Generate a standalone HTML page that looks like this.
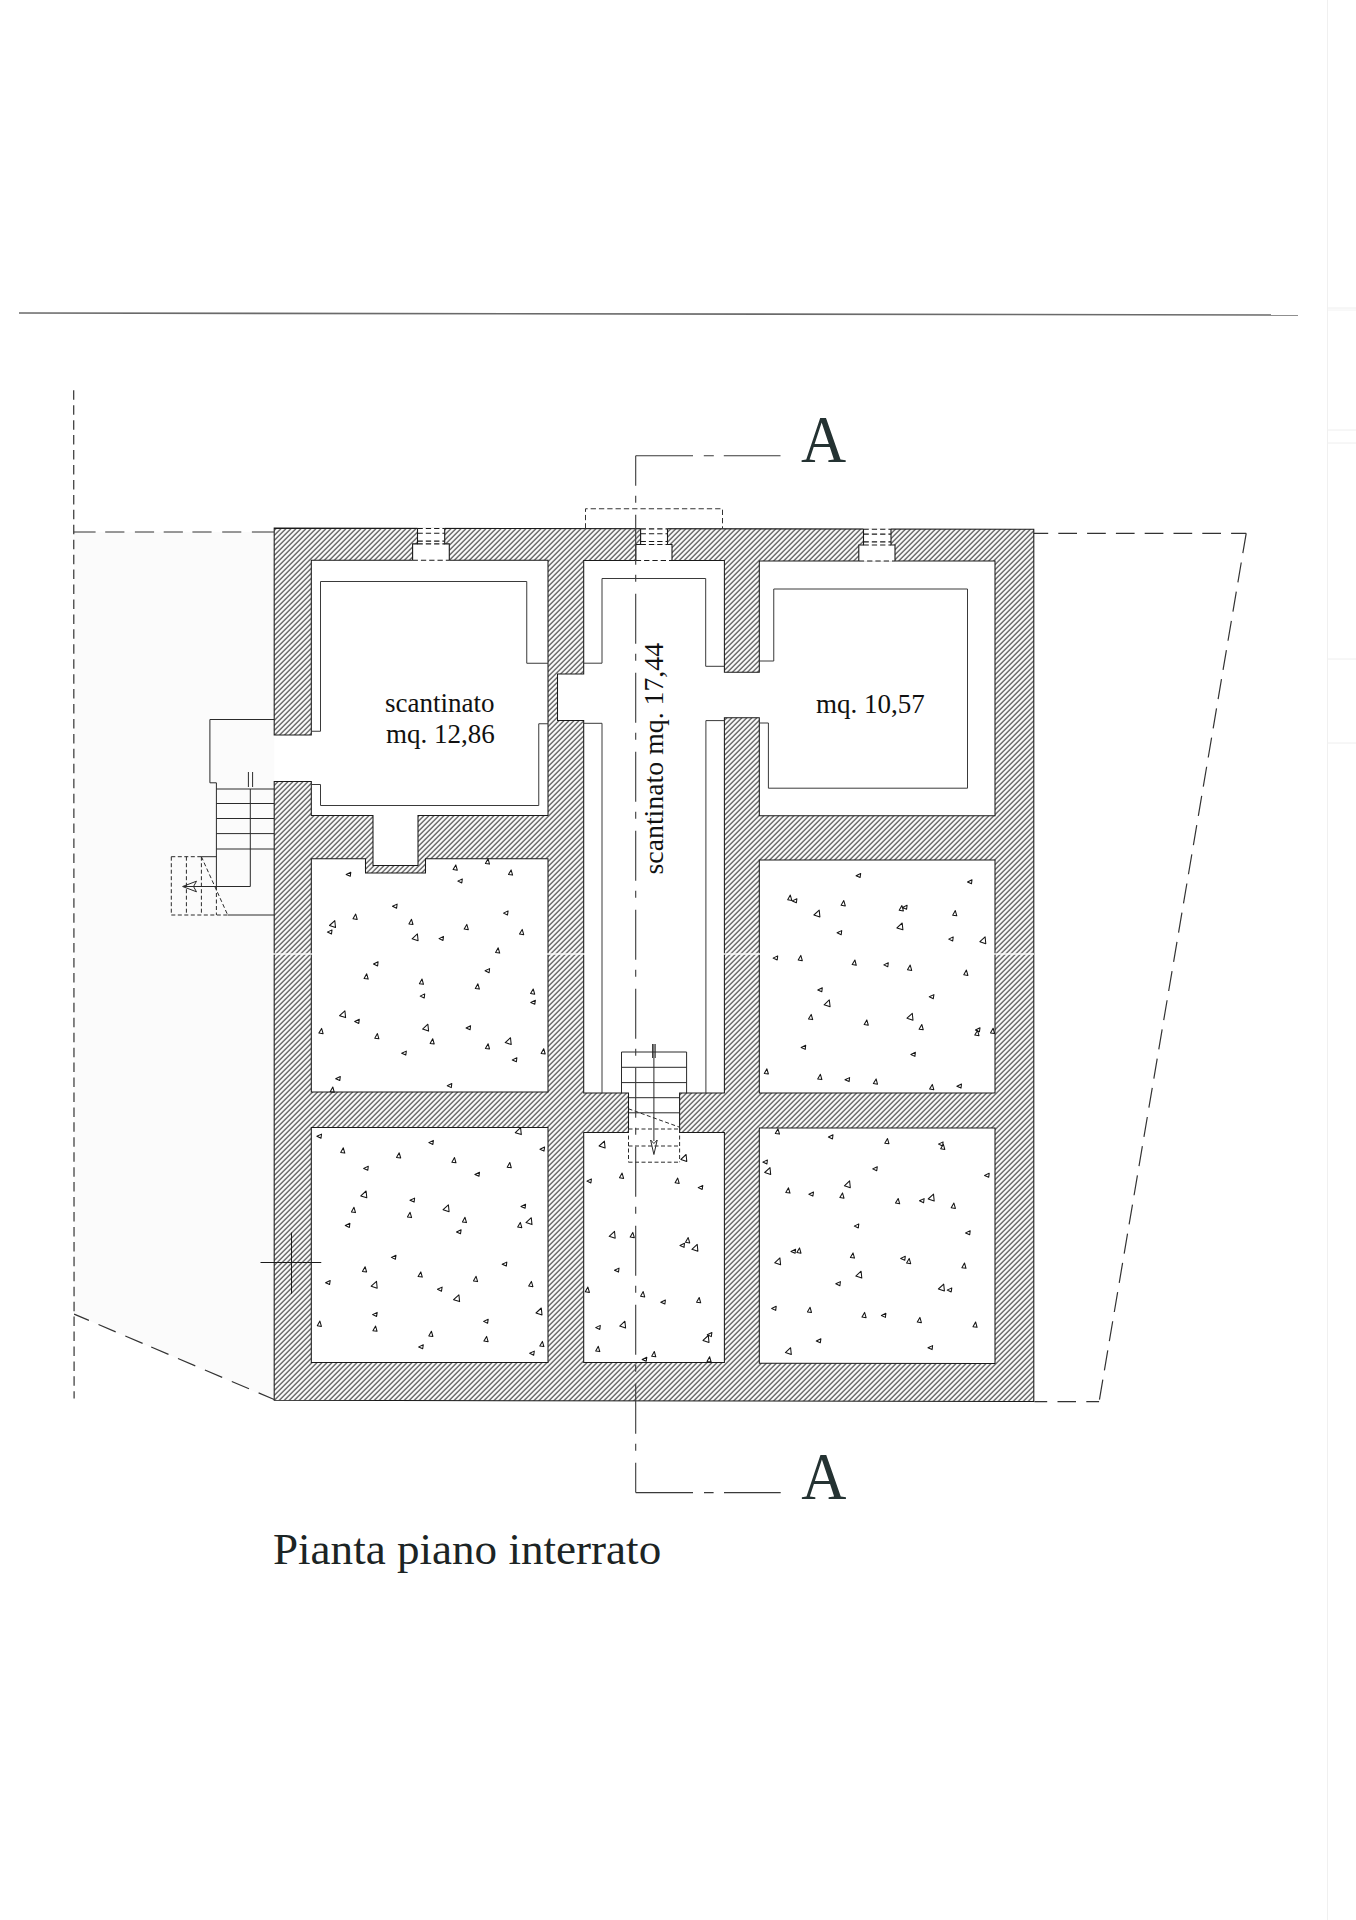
<!DOCTYPE html>
<html><head><meta charset="utf-8"><title>Pianta piano interrato</title>
<style>html,body{margin:0;padding:0;background:#fff;width:1356px;height:1920px;overflow:hidden}svg{display:block}</style>
</head><body>
<svg width="1356" height="1920" viewBox="0 0 1356 1920">
<defs>
<pattern id="h" patternUnits="userSpaceOnUse" x="4.6" y="0" width="5" height="5">
<path d="M-1,1 L1,-1 M0,5 L5,0 M4,6 L6,4" stroke="#2a2a2a" stroke-width="1.05" fill="none"/>
</pattern>
</defs>
<rect width="1356" height="1920" fill="#fff"/>
<path d="M73.8,532 L274.2,532 L274.2,1400 L74,1314 Z" fill="#fbfbfb"/>
<path d="M19,313 L1298,315" stroke="#6a6a6a" stroke-width="1.6" fill="none"/>
<path d="M1327.5,0 L1327.5,1920" stroke="#f0f0f0" stroke-width="1" fill="none"/>
<path d="M1328,310 L1356,310" stroke="#f2f2f2" stroke-width="1" fill="none"/>
<path d="M274.2,528.1 L1033.8,529.3 L1033.8,1401.5 L274.2,1400.3 L274.2,781.5 L311.3,781.5 L311.3,815.5 L373,815.5 L373,865.5 L418,865.5 L418,815.5 L548,815.5 L548,560.3 L311.3,560.3 L311.3,735 L274.2,735ZM583.7,560.5 L724.4,560.5 L724.4,672.3 L759.3,672.3 L759.3,561 L995,561 L995,815.8 L759.3,815.8 L759.3,717.8 L724.4,717.8 L724.4,1093 L679.6,1093 L679.6,1132.4 L724.4,1132.4 L724.4,1362.5 L583.7,1362.5 L583.7,1132.4 L628.5,1132.4 L628.5,1093 L583.7,1093 L583.7,720.5 L557.5,720.5 L557.5,674 L583.7,674ZM311.3,858.8 L365.5,858.8 L365.5,873 L425.5,873 L425.5,858.8 L548,858.8 L548,1092 L311.3,1092ZM311.3,1127.5 L548,1127.5 L548,1362.5 L311.3,1362.5ZM759.3,860 L995,860 L995,1093 L759.3,1093ZM759.3,1128 L995,1128 L995,1363.5 L759.3,1363.2Z" fill="url(#h)" fill-rule="evenodd" stroke="#1a1a1a" stroke-width="1.05"/>
<path d="M272,954 L1034,954" stroke="#fff" stroke-width="1.6" opacity="0.9"/>
<g fill="#fff"><rect x="417.5" y="527.3" width="27.19999999999999" height="16.600000000000023"/><rect x="412.6" y="543.9" width="36.69999999999999" height="17.199999999999978"/><rect x="640.6" y="527.7" width="26.899999999999977" height="16.799999999999955"/><rect x="635.8" y="544.5" width="36.200000000000045" height="16.8"/><rect x="863.5" y="528.1" width="27.5" height="16.899999999999977"/><rect x="858.8" y="545" width="36.200000000000045" height="16.8"/></g>
<path d="M417.5,528.3 L417.5,543.9 L412.6,543.9 L412.6,560.3M444.7,528.3 L444.7,543.9 L449.3,543.9 L449.3,560.3M640.6,528.7 L640.6,544.5 L635.8,544.5 L635.8,560.5M667.5,528.7 L667.5,544.5 L672,544.5 L672,560.5M863.5,529.1 L863.5,545 L858.8,545 L858.8,561M891,529.1 L891,545 L895,545 L895,561" stroke="#1a1a1a" stroke-width="1.1" fill="none"/>
<path d="M417.5,528.5 L444.7,528.5M417.5,533.3 L444.7,533.3M417.5,541.0999999999999 L444.7,541.0999999999999M417.5,543.9 L444.7,543.9M412.6,560.3 L449.3,560.3M640.6,528.9000000000001 L667.5,528.9000000000001M640.6,533.7 L667.5,533.7M640.6,541.5 L667.5,541.5M640.6,544.5 L667.5,544.5M635.8,560.5 L672,560.5M863.5,529.3000000000001 L891,529.3000000000001M863.5,534.1 L891,534.1M863.5,541.9 L891,541.9M863.5,545 L891,545M858.8,561 L895,561" stroke="#1a1a1a" stroke-width="1.1" fill="none" stroke-dasharray="5.3 3"/>
<path d="M585.5,528.5 L585.5,508.75 L722.5,508.75 L722.5,528.5" stroke="#333" stroke-width="1" fill="none" stroke-dasharray="5.3 3"/>
<path d="M548,663.25 L526.75,663.25 L526.75,581.5 L320.5,581.5 L320.5,731.25 L311.3,731.25M311.3,784.5 L320.5,784.5 L320.5,805.5 L538.75,805.5 L538.75,723.75 L548,723.75M583.7,663.2 L602,663.2 L602,578.5 L705.7,578.5 L705.7,666.3 L724.4,666.3M583.7,723.3 L602,723.3 L602,1093M724.4,720.6 L705.9,720.6 L705.9,1093M759.3,661 L773.75,661 L773.75,589 L967.5,589 L967.5,788.2 L768.4,788.2 L768.4,723 L759.3,723" stroke="#3a3a3a" stroke-width="1" fill="none"/>
<path d="M274.2,719.5 L209.9,719.5 L209.9,782.8 L216.4,782.8 L216.4,886.5M216.4,789 L274.2,789M216.4,803.5 L274.2,803.5M216.4,818.5 L274.2,818.5M216.4,833.6 L274.2,833.6M216.4,849 L274.2,849M250.3,789 L250.3,886.5 L183.5,886.5M248.4,772 L248.4,787 M252.6,772 L252.6,787M201.4,856.7 L216.4,856.7 M227.7,915 L274.2,915" stroke="#2a2a2a" stroke-width="1" fill="none"/>
<path d="M182.6,886.5 L196.5,881.2 L193.5,886.5 L196.5,891.8 Z" stroke="#2a2a2a" stroke-width="1" fill="none"/>
<path d="M171.3,856.7 L201.4,856.7 M171.3,856.7 L171.3,915 M171.3,915 L227.7,915 M186.4,856.7 L186.4,915 M201.4,856.7 L201.4,915 M216.4,886.5 L216.4,915 M201.4,856.7 L227.7,915" stroke="#2a2a2a" stroke-width="1" fill="none" stroke-dasharray="4 2.5"/>
<path d="M621.5,1093 L621.5,1052 L686.6,1052 L686.6,1093M621.5,1067.3 L686.6,1067.3M621.5,1082.6 L686.6,1082.6M628.5,1097.7 L679.6,1097.7M628.5,1112.8 L679.6,1112.8M653.9,1044 L653.9,1141M652.6,1044 L652.6,1058 M655.2,1044 L655.2,1058" stroke="#2a2a2a" stroke-width="1" fill="none"/>
<path d="M653.9,1154.5 L650.6,1140 L653.9,1143.5 L657.2,1140 Z" stroke="#2a2a2a" stroke-width="1" fill="none"/>
<path d="M628.5,1108.8 L679.6,1127.2 M628.5,1129 L679.6,1129 M628.5,1129 L628.5,1162.2 M679.6,1129 L679.6,1162.2 M628.5,1162.2 L679.6,1162.2 M628.5,1146 L679.6,1146" stroke="#2a2a2a" stroke-width="1" fill="none" stroke-dasharray="4 2.5"/>
<path d="M73.6,532.0 L95.6,532.0M105.2,532.0 L124.4,532.0M134.9,532.0 L154.1,532.0M163.7,532.0 L182.9,532.0M192.4,532.0 L211.6,532.0M222.2,532.0 L241.3,532.0M251.9,532.0 L274.2,532.0M74.1,1314.10 L88.9,1320.42M98.5,1324.52 L115.7,1331.86M125.3,1335.96 L142.6,1343.34M151.2,1347.02 L168.5,1354.40M178,1358.46 L195.3,1365.84M204.9,1369.94 L222.2,1377.33M231.8,1381.43 L249,1388.77M258.6,1392.87 L274.2,1399.53M1034.4,1401.6 L1047.2,1401.6M1057.5,1401.6 L1076,1401.6M1086.3,1401.6 L1099.1,1401.6" stroke="#333" stroke-width="1.2" fill="none"/>
<path d="M1033.8,533.3 L1246.2,533.3" stroke="#333" stroke-width="1.2" fill="none" stroke-dasharray="18.7 10.1" stroke-dashoffset="4.3"/>
<path d="M1246.2,533.3 L1099.1,1401.6" stroke="#333" stroke-width="1.2" fill="none" stroke-dasharray="20.2 9.4"/>
<path d="M73.7,390.3 L74.1,1398.4" stroke="#333" stroke-width="1.2" fill="none" stroke-dasharray="9.5 5.44"/>
<path d="M1328,308 L1356,308 M1328,430 L1356,430 M1328,443 L1356,443 M1328,659 L1356,659 M1328,743 L1356,743" stroke="#eeeeee" stroke-width="1" fill="none"/>
<path d="M635.7,455.75 L635.7,1492.6" stroke="#3a3a3a" stroke-width="1.1" fill="none" stroke-dasharray="50 10 7 12" stroke-dashoffset="20"/>
<path d="M635.7,455.75 L693,455.75 M703.8,455.75 L713.8,455.75 M723.8,455.75 L780.5,455.75 M635.7,1492.6 L693,1492.6 M704,1492.6 L713.6,1492.6 M724,1492.6 L780.7,1492.6" stroke="#3a3a3a" stroke-width="1.1" fill="none"/>
<path d="M291.5,1232.5 L291.5,1293.75 M260.5,1262.5 L321.25,1262.5" stroke="#1a1a1a" stroke-width="1" fill="none"/>
<path d="M350.8,872.2 L346.2,874.4 L350.3,876.3ZM455.8,864.9 L453.1,869.5 L457.3,870.2ZM488.1,858.8 L485.4,863.5 L489.5,864.1ZM511.1,869.9 L508.5,874.5 L512.6,875.1ZM462.3,878.9 L457.8,881.1 L461.8,882.9ZM397.1,904.1 L392.5,906.3 L396.6,908.2ZM355.7,914.1 L353.0,918.8 L357.2,919.4ZM334.8,920.6 L329.5,925.5 L335.5,927.5ZM332.0,929.9 L327.4,932.1 L331.5,934.0ZM411.5,919.3 L408.9,923.9 L413.0,924.5ZM417.4,933.9 L412.1,938.8 L418.1,940.7ZM443.5,936.4 L439.0,938.6 L443.0,940.4ZM466.8,924.4 L464.2,929.1 L468.3,929.7ZM508.1,910.9 L503.5,913.1 L507.5,915.0ZM522.2,929.4 L519.5,934.1 L523.7,934.7ZM498.2,947.8 L495.6,952.5 L499.7,953.1ZM378.1,961.8 L373.5,964.0 L377.6,965.9ZM366.7,973.8 L364.1,978.5 L368.2,979.1ZM422.0,979.0 L419.4,983.7 L423.5,984.3ZM424.7,993.9 L420.2,996.1 L424.2,998.0ZM477.9,983.8 L475.3,988.5 L479.4,989.1ZM489.6,968.6 L485.1,970.8 L489.1,972.7ZM533.2,989.0 L530.6,993.6 L534.7,994.2ZM535.4,1000.2 L530.8,1002.4 L534.8,1004.2ZM344.9,1010.8 L339.6,1015.7 L345.6,1017.6ZM359.3,1019.3 L354.7,1021.5 L358.8,1023.4ZM321.6,1028.4 L318.9,1033.1 L323.1,1033.7ZM377.4,1033.6 L374.8,1038.2 L378.9,1038.8ZM427.9,1024.2 L422.6,1029.1 L428.6,1031.1ZM432.7,1038.7 L430.1,1043.4 L434.2,1044.0ZM470.6,1025.8 L466.1,1028.0 L470.1,1029.8ZM488.1,1043.7 L485.4,1048.4 L489.5,1049.0ZM510.5,1037.7 L505.2,1042.6 L511.2,1044.5ZM543.7,1048.7 L541.1,1053.4 L545.2,1054.0ZM406.3,1051.1 L401.7,1053.3 L405.8,1055.1ZM516.9,1057.7 L512.3,1059.9 L516.4,1061.7ZM340.3,1076.5 L335.7,1078.7 L339.8,1080.5ZM451.8,1083.5 L447.3,1085.7 L451.3,1087.6ZM332.8,1087.0 L330.2,1091.7 L334.3,1092.3ZM321.5,1134.1 L316.9,1136.3 L321.0,1138.2ZM343.3,1147.8 L340.7,1152.4 L344.8,1153.1ZM433.4,1140.4 L428.8,1142.6 L432.9,1144.4ZM399.2,1152.8 L396.5,1157.4 L400.7,1158.0ZM520.6,1127.7 L515.3,1132.7 L521.3,1134.6ZM544.6,1147.0 L540.0,1149.2 L544.0,1151.1ZM454.5,1157.6 L451.9,1162.2 L456.0,1162.8ZM509.8,1162.5 L507.2,1167.2 L511.3,1167.8ZM368.3,1166.2 L363.7,1168.4 L367.8,1170.2ZM479.5,1172.3 L474.9,1174.5 L479.0,1176.3ZM366.1,1191.0 L360.8,1195.9 L366.8,1197.8ZM414.6,1198.1 L410.0,1200.3 L414.1,1202.1ZM354.0,1207.3 L351.4,1212.0 L355.5,1212.6ZM448.4,1204.8 L443.1,1209.7 L449.1,1211.7ZM410.1,1212.3 L407.4,1217.0 L411.6,1217.6ZM525.6,1204.2 L521.0,1206.4 L525.1,1208.2ZM531.3,1217.7 L526.0,1222.6 L532.0,1224.6ZM520.3,1222.4 L517.7,1227.1 L521.8,1227.7ZM465.0,1217.3 L462.4,1222.0 L466.5,1222.6ZM349.9,1223.3 L345.3,1225.5 L349.4,1227.4ZM461.1,1229.8 L456.5,1232.0 L460.5,1233.8ZM396.0,1255.2 L391.4,1257.4 L395.4,1259.3ZM506.8,1262.1 L502.2,1264.3 L506.3,1266.1ZM365.1,1266.7 L362.4,1271.4 L366.6,1272.0ZM420.8,1271.9 L418.1,1276.5 L422.3,1277.1ZM476.1,1276.3 L473.4,1280.9 L477.6,1281.6ZM531.4,1281.4 L528.7,1286.1 L532.9,1286.7ZM330.2,1280.5 L325.6,1282.7 L329.6,1284.5ZM376.5,1281.3 L371.2,1286.2 L377.2,1288.2ZM442.1,1287.1 L437.5,1289.3 L441.5,1291.2ZM458.9,1294.8 L453.6,1299.7 L459.6,1301.6ZM541.3,1308.0 L536.0,1313.0 L542.0,1314.9ZM377.2,1312.4 L372.6,1314.6 L376.6,1316.4ZM319.9,1321.1 L317.3,1325.7 L321.4,1326.4ZM375.6,1326.1 L372.9,1330.7 L377.1,1331.3ZM488.2,1319.2 L483.6,1321.4 L487.6,1323.3ZM431.4,1331.2 L428.8,1335.9 L432.9,1336.5ZM486.6,1336.4 L483.9,1341.1 L488.1,1341.7ZM423.3,1344.7 L418.7,1346.9 L422.7,1348.7ZM542.4,1341.4 L539.8,1346.0 L543.9,1346.6ZM534.3,1351.1 L529.7,1353.3 L533.7,1355.2ZM604.4,1141.1 L599.1,1146.0 L605.1,1148.0ZM686.1,1154.5 L680.9,1159.4 L686.8,1161.4ZM622.1,1173.1 L619.5,1177.8 L623.6,1178.4ZM591.4,1178.9 L586.9,1181.1 L590.9,1182.9ZM677.7,1178.1 L675.1,1182.8 L679.2,1183.4ZM702.8,1185.4 L698.2,1187.6 L702.2,1189.4ZM614.5,1231.3 L609.2,1236.3 L615.2,1238.2ZM632.8,1232.4 L630.2,1237.1 L634.3,1237.7ZM688.2,1237.6 L685.5,1242.3 L689.7,1242.9ZM684.5,1243.3 L680.0,1245.5 L684.0,1247.4ZM697.2,1244.4 L691.9,1249.3 L697.9,1251.2ZM619.0,1268.1 L614.5,1270.3 L618.5,1272.1ZM587.9,1287.1 L585.3,1291.7 L589.4,1292.4ZM643.2,1291.6 L640.6,1296.3 L644.7,1296.9ZM665.4,1300.0 L660.8,1302.2 L664.9,1304.0ZM699.2,1297.5 L696.6,1302.2 L700.7,1302.8ZM600.3,1325.4 L595.7,1327.6 L599.8,1329.4ZM624.9,1321.2 L619.7,1326.1 L625.6,1328.0ZM708.3,1335.5 L703.0,1340.4 L709.0,1342.4ZM711.9,1332.5 L707.3,1334.7 L711.3,1336.6ZM598.3,1346.3 L595.7,1351.0 L599.8,1351.6ZM654.3,1351.5 L651.7,1356.2 L655.8,1356.8ZM646.8,1357.3 L642.2,1359.5 L646.2,1361.3ZM709.6,1356.7 L707.0,1361.4 L711.1,1362.0ZM860.7,873.5 L856.1,875.7 L860.1,877.5ZM972.0,879.8 L967.5,882.0 L971.5,883.8ZM790.3,895.1 L787.7,899.7 L791.8,900.4ZM796.9,898.7 L792.3,900.9 L796.4,902.8ZM843.8,900.6 L841.1,905.3 L845.3,905.9ZM901.9,905.6 L899.2,910.3 L903.4,910.9ZM907.1,905.2 L902.6,907.4 L906.6,909.2ZM819.2,910.1 L813.9,915.0 L819.9,916.9ZM955.3,910.6 L952.7,915.2 L956.8,915.8ZM902.2,923.0 L896.9,927.9 L902.9,929.8ZM841.7,930.6 L837.1,932.8 L841.2,934.7ZM953.2,936.9 L948.7,939.1 L952.7,941.0ZM985.1,936.8 L979.9,941.7 L985.8,943.7ZM777.7,955.9 L773.1,958.1 L777.2,959.9ZM800.8,955.4 L798.2,960.0 L802.3,960.7ZM854.9,960.0 L852.2,964.6 L856.3,965.3ZM888.3,962.7 L883.8,964.9 L887.8,966.8ZM910.2,965.1 L907.5,969.8 L911.7,970.4ZM966.4,970.1 L963.8,974.8 L967.9,975.4ZM822.3,987.8 L817.8,990.0 L821.8,991.8ZM829.3,999.9 L824.1,1004.8 L830.1,1006.7ZM933.9,994.6 L929.3,996.8 L933.3,998.7ZM811.2,1014.4 L808.5,1019.0 L812.7,1019.6ZM912.3,1013.3 L907.0,1018.2 L913.0,1020.2ZM866.8,1019.9 L864.2,1024.6 L868.3,1025.2ZM921.8,1024.5 L919.1,1029.2 L923.3,1029.8ZM980.0,1027.8 L975.4,1030.0 L979.4,1031.8ZM977.5,1030.4 L974.8,1035.1 L979.0,1035.7ZM993.1,1028.2 L990.5,1032.9 L994.6,1033.5ZM805.7,1045.3 L801.2,1047.5 L805.2,1049.4ZM915.4,1052.3 L910.9,1054.5 L914.9,1056.4ZM766.9,1068.8 L764.3,1073.4 L768.4,1074.0ZM820.4,1074.3 L817.7,1079.0 L821.9,1079.6ZM849.6,1077.6 L845.0,1079.8 L849.1,1081.6ZM876.1,1078.9 L873.4,1083.6 L877.5,1084.2ZM932.3,1084.4 L929.6,1089.1 L933.8,1089.7ZM961.5,1084.0 L956.9,1086.2 L961.0,1088.1ZM778.0,1128.8 L775.3,1133.5 L779.5,1134.1ZM833.0,1134.8 L828.4,1137.0 L832.5,1138.9ZM887.5,1138.6 L884.8,1143.2 L889.0,1143.8ZM943.1,1141.9 L938.5,1144.1 L942.6,1145.9ZM943.3,1144.1 L940.7,1148.8 L944.8,1149.4ZM767.4,1159.9 L762.8,1162.1 L766.9,1164.0ZM770.0,1167.6 L764.7,1172.5 L770.7,1174.4ZM877.3,1166.7 L872.7,1168.9 L876.7,1170.8ZM989.2,1173.2 L984.6,1175.4 L988.7,1177.2ZM849.6,1180.8 L844.4,1185.8 L850.3,1187.7ZM788.5,1187.8 L785.8,1192.5 L790.0,1193.1ZM813.5,1192.0 L808.9,1194.2 L812.9,1196.1ZM842.5,1192.9 L839.9,1197.6 L844.0,1198.2ZM898.2,1198.5 L895.5,1203.1 L899.7,1203.8ZM924.1,1198.6 L919.5,1200.8 L923.6,1202.7ZM933.5,1194.1 L928.2,1199.0 L934.2,1201.0ZM953.9,1203.1 L951.2,1207.8 L955.4,1208.4ZM858.8,1223.9 L854.3,1226.1 L858.3,1227.9ZM970.2,1230.7 L965.6,1232.9 L969.7,1234.8ZM795.6,1249.2 L791.0,1251.4 L795.1,1253.2ZM799.5,1247.9 L796.9,1252.6 L801.0,1253.2ZM779.9,1257.9 L774.7,1262.8 L780.6,1264.8ZM853.0,1252.9 L850.4,1257.5 L854.5,1258.1ZM905.3,1256.2 L900.7,1258.4 L904.8,1260.2ZM909.2,1258.4 L906.6,1263.1 L910.7,1263.7ZM964.5,1263.0 L961.9,1267.7 L966.0,1268.3ZM861.1,1271.2 L855.8,1276.1 L861.8,1278.0ZM840.4,1281.6 L835.8,1283.8 L839.9,1285.7ZM943.7,1284.1 L938.4,1289.0 L944.4,1290.9ZM951.8,1287.9 L947.2,1290.1 L951.2,1291.9ZM776.2,1306.3 L771.7,1308.5 L775.7,1310.4ZM810.1,1307.3 L807.4,1311.9 L811.5,1312.5ZM864.6,1312.4 L862.0,1317.1 L866.1,1317.7ZM885.9,1313.3 L881.4,1315.5 L885.4,1317.4ZM919.9,1317.4 L917.3,1322.1 L921.4,1322.7ZM975.6,1322.0 L973.0,1326.7 L977.1,1327.3ZM820.9,1338.8 L816.3,1341.0 L820.3,1342.8ZM790.6,1347.7 L785.4,1352.6 L791.3,1354.5ZM932.6,1345.6 L928.0,1347.8 L932.1,1349.6Z" stroke="#151515" stroke-width="1.05" fill="none" stroke-linejoin="round"/>
<g font-family="Liberation Serif, serif" fill="#111">
<text x="385" y="712.1" font-size="27">scantinato</text>
<text x="386" y="743.3" font-size="27">mq. 12,86</text>
<text x="816" y="712.5" font-size="27">mq. 10,57</text>
<text transform="translate(662.8,874.5) rotate(-90)" font-size="27.8">scantinato mq. 17,44</text>
<text x="273" y="1564.3" font-size="45.1" fill="#1c2424">Pianta piano interrato</text>
<text transform="translate(801,461.6) scale(0.92,1)" font-size="68" fill="#243232">A</text>
<text transform="translate(801.3,1498.9) scale(0.92,1)" font-size="68" fill="#243232">A</text>
</g>
</svg>
</body></html>
